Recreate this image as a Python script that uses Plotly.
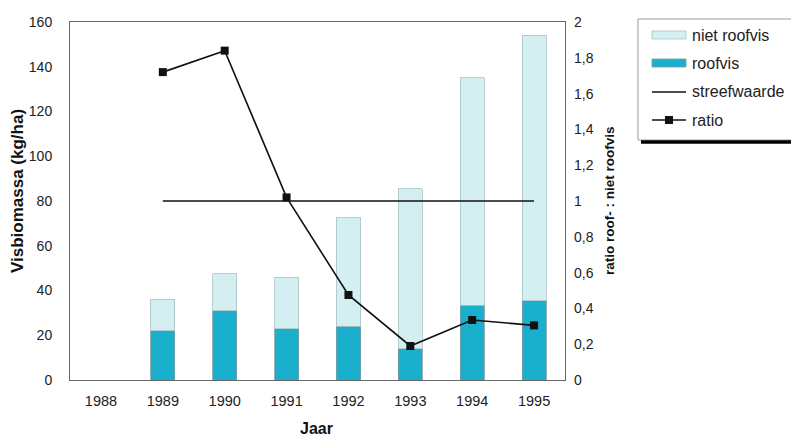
import plotly.graph_objects as go

# Data
jaren = ["1988", "1989", "1990", "1991", "1992", "1993", "1994", "1995"]
bar_jaren = ["1989", "1990", "1991", "1992", "1993", "1994", "1995"]
roofvis = [22, 31, 23, 24, 14, 33.5, 35.5]
totaal = [36, 47.5, 46, 72.5, 85.5, 135, 154]
niet_roofvis = [t - r for t, r in zip(totaal, roofvis)]
ratio = [1.72, 1.84, 1.02, 0.475, 0.19, 0.335, 0.305]
streefwaarde = [1, 1, 1, 1, 1, 1, 1]

names = ["niet roofvis", "roofvis", "streefwaarde", "ratio"]

C_ROOF = "#1AAFCD"
C_NIET = "#D3EFF2"
C_EDGE = "#7C9CA2"

W, H = 791, 436
L, R, T, B = 70, 565, 22, 380  # plot area in pixels

fig = go.Figure()

fig.add_trace(go.Bar(x=bar_jaren, y=roofvis, name=names[1],
                     marker=dict(color=C_ROOF, line=dict(color=C_EDGE, width=0.8))))
fig.add_trace(go.Bar(x=bar_jaren, y=niet_roofvis, name=names[0],
                     marker=dict(color=C_NIET, line=dict(color="#A9C2C6", width=0.8))))
fig.add_trace(go.Scatter(x=bar_jaren, y=streefwaarde, name=names[2], yaxis="y2",
                         mode="lines", line=dict(color="#111", width=1.6)))
fig.add_trace(go.Scatter(x=bar_jaren, y=ratio, name=names[3], yaxis="y2",
                         mode="lines+markers", line=dict(color="#111", width=1.6),
                         marker=dict(symbol="square", size=8, color="#111")))

FONT = "Liberation Sans, Arial, sans-serif"

fig.update_layout(
    width=W, height=H,
    margin=dict(l=L, r=W - R, t=T, b=H - B),
    paper_bgcolor="white", plot_bgcolor="white",
    barmode="stack", bargap=0.61,
    showlegend=False,
    separators=",.",
    font=dict(family=FONT, size=14, color="#222"),
    xaxis=dict(type="category", categoryorder="array", categoryarray=jaren,
               tickvals=jaren, ticktext=jaren, range=[-0.5, 7.5],
               showline=True, linecolor="#666", linewidth=1, mirror=True,
               showgrid=False, ticks="", ticklabelstandoff=8,
               tickfont=dict(size=14.5, color="#222")),
    yaxis=dict(range=[0, 160], dtick=20, showgrid=False, zeroline=False,
               showline=True, linecolor="#666", linewidth=1, mirror=True,
               ticks="", ticklabelstandoff=14,
               tickfont=dict(size=14, color="#222")),
    yaxis2=dict(range=[0, 2], dtick=0.2, overlaying="y", side="right",
                showgrid=False, zeroline=False, showline=False,
                ticks="", ticklabelstandoff=8,
                tickfont=dict(size=14, color="#222")),
)


def px(x):
    return (x - L) / (R - L)


def py(y):
    return (B - y) / (B - T)


# Axis titles
fig.add_annotation(x=px(17), y=py(191), xref="paper", yref="paper",
                   xanchor="center", yanchor="middle",
                   text="<b>Visbiomassa (kg/ha)</b>", textangle=-90, showarrow=False,
                   font=dict(size=17, color="#111", family=FONT))
fig.add_annotation(x=px(609), y=py(201), xref="paper", yref="paper",
                   xanchor="center", yanchor="middle",
                   text="<b>ratio roof- : niet roofvis</b>", textangle=-90, showarrow=False,
                   font=dict(size=13.5, color="#111", family=FONT))
fig.add_annotation(x=px(316), y=py(428), xref="paper", yref="paper",
                   xanchor="center", yanchor="middle",
                   text="<b>Jaar</b>", showarrow=False,
                   font=dict(size=16, color="#111", family=FONT))

# Legend box with drop shadow
shapes = [
    dict(type="rect", xref="paper", yref="paper", x0=px(638), x1=px(800), y0=py(140), y1=py(19),
         line=dict(color="#999", width=1), fillcolor="white", layer="above"),
    dict(type="line", xref="paper", yref="paper", x0=px(641), x1=px(800), y0=py(142), y1=py(142),
         line=dict(color="#000", width=3.5)),
    dict(type="rect", xref="paper", yref="paper", x0=px(652), x1=px(686), y0=py(39), y1=py(31),
         line=dict(color="#A9C2C6", width=0.8), fillcolor=C_NIET, layer="above"),
    dict(type="rect", xref="paper", yref="paper", x0=px(652), x1=px(686), y0=py(67), y1=py(59),
         line=dict(color=C_EDGE, width=0.8), fillcolor=C_ROOF, layer="above"),
    dict(type="line", xref="paper", yref="paper", x0=px(652), x1=px(686), y0=py(92), y1=py(92),
         line=dict(color="#111", width=1.5), layer="above"),
    dict(type="line", xref="paper", yref="paper", x0=px(652), x1=px(686), y0=py(120), y1=py(120),
         line=dict(color="#111", width=1.5), layer="above"),
    dict(type="rect", xref="paper", yref="paper", x0=px(665), x1=px(673), y0=py(124), y1=py(116),
         line=dict(color="#111", width=0), fillcolor="#111", layer="above"),
]
fig.update_layout(shapes=shapes)

for nm, yy in zip(names, [35, 63, 92, 120]):
    fig.add_annotation(x=px(690), y=py(yy), xref="paper", yref="paper", text=nm,
                       xanchor="left", yanchor="middle", showarrow=False,
                       font=dict(size=16, color="#222", family=FONT))

fig.write_html("out.html")
